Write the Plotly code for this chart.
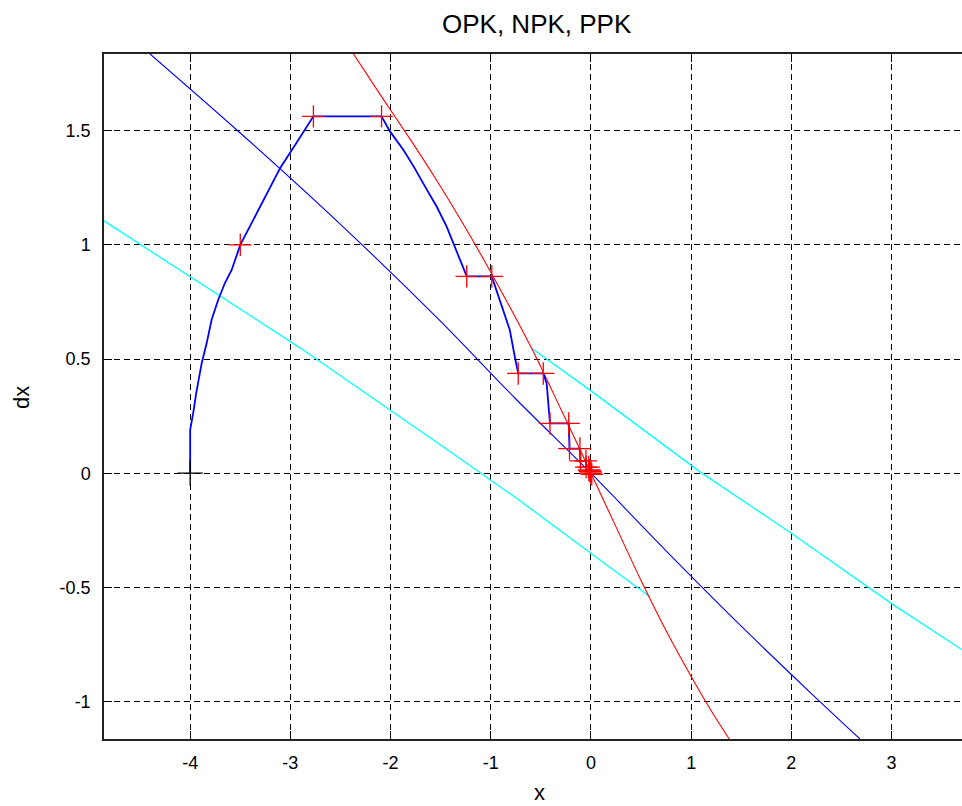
import plotly.graph_objects as go

# ---- data ----
traj_x = [-4.0, -4.0, -3.97, -3.94, -3.885, -3.835, -3.786, -3.72, -3.653, -3.586, -3.50,
          -3.30, -3.10, -2.94, -2.77,
          -2.09, -2.006, -1.873, -1.77, -1.657, -1.54, -1.44, -1.374, -1.307, -1.24,
          -0.99, -0.908, -0.81, -0.76, -0.726,
          -0.476, -0.442, -0.409,
          -0.222, -0.214,
          -0.11, -0.105,
          -0.05, -0.048,
          -0.022, -0.021,
          -0.01, -0.0095,
          -0.004, 0.0]
traj_y = [0.0, 0.19, 0.263, 0.35, 0.482, 0.57, 0.672, 0.76, 0.833, 0.89, 1.00,
          1.168, 1.338, 1.446, 1.563,
          1.563, 1.497, 1.417, 1.344, 1.256, 1.168, 1.08, 1.008, 0.935, 0.862,
          0.862, 0.759, 0.627, 0.51, 0.437,
          0.437, 0.393, 0.218,
          0.218, 0.108,
          0.108, 0.054,
          0.054, 0.027,
          0.027, 0.0135,
          0.0135, 0.007,
          0.007, 0.0]

mark_x = [-3.50, -2.77, -2.09, -1.24, -0.99, -0.726, -0.476, -0.409, -0.222, -0.214, -0.11,
          -0.105, -0.05, -0.048, -0.022, -0.021, -0.01, -0.0095, -0.004, 0.0, 0.008]
mark_y = [1.00, 1.563, 1.563, 0.862, 0.862, 0.437, 0.437, 0.218, 0.218, 0.108, 0.108,
          0.054, 0.054, 0.027, 0.027, 0.0135, 0.0135, 0.007, 0.007, 0.0, -0.005]

start_x = [-4.0]
start_y = [0.0]

red_x = [-2.37, -2.07, -1.80, -1.55, -1.30, -1.05, -0.80, -0.55, -0.30, -0.10, 0.0,
         0.25, 0.50, 0.75, 1.00, 1.20, 1.38]
red_y = [1.836, 1.636, 1.46, 1.29, 1.11, 0.92, 0.72, 0.51, 0.28, 0.095, 0.0,
         -0.235, -0.47, -0.69, -0.89, -1.04, -1.164]

blue_x = [-4.40, -3.50, -2.50, -1.50, -0.75, 0.0, 0.75, 1.50, 2.20, 2.685]
blue_y = [1.836, 1.49, 1.09, 0.665, 0.325, 0.0, -0.34, -0.67, -0.965, -1.164]

cyan_up_x = [-0.592, -0.01, 1.088, 2.003, 3.0, 3.70]
cyan_up_y = [0.547, 0.364, 0.006, -0.264, -0.571, -0.772]

cyan_lo_x = [-4.86, -3.70, -2.90, -1.407, -0.742, 0.09, 0.589]
cyan_lo_y = [1.105, 0.774, 0.548, 0.095, -0.11, -0.38, -0.541]

x_ticks = [-4, -3, -2, -1, 0, 1, 2, 3]
x_tick_text = ["-4", "-3", "-2", "-1", "0", "1", "2", "3"]
y_ticks = [-1, -0.5, 0, 0.5, 1, 1.5]
y_tick_text = ["-1", "-0.5", "0", "0.5", "1", "1.5"]

title_text = "OPK, NPK, PPK"
x_label = "x"
y_label = "dx"

# ---- figure ----
FONT = "Liberation Sans, Arial, sans-serif"
fig = go.Figure()

fig.add_trace(go.Scatter(x=cyan_lo_x, y=cyan_lo_y, mode="lines",
                         line=dict(color="#00FFFF", width=1.3), hoverinfo="skip"))
fig.add_trace(go.Scatter(x=cyan_up_x, y=cyan_up_y, mode="lines",
                         line=dict(color="#00FFFF", width=1.3), hoverinfo="skip"))
fig.add_trace(go.Scatter(x=blue_x, y=blue_y, mode="lines",
                         line=dict(color="#0000FF", width=1.1, shape="spline", smoothing=0.8),
                         hoverinfo="skip"))
fig.add_trace(go.Scatter(x=red_x, y=red_y, mode="lines",
                         line=dict(color="#FF0000", width=1.1, shape="spline", smoothing=0.8),
                         hoverinfo="skip"))
fig.add_trace(go.Scatter(x=traj_x, y=traj_y, mode="lines",
                         line=dict(color="#0000FF", width=1.8), hoverinfo="skip"))
fig.add_trace(go.Scatter(x=mark_x, y=mark_y, mode="markers",
                         marker=dict(symbol="cross-thin", size=16,
                                     line=dict(color="#FF0000", width=1.3)),
                         hoverinfo="skip"))
fig.add_trace(go.Scatter(x=start_x, y=start_y, mode="markers",
                         marker=dict(symbol="cross-thin", size=18,
                                     line=dict(color="#000000", width=1.3)),
                         hoverinfo="skip"))

fig.update_layout(
    width=962, height=806,
    margin=dict(l=104, r=0, t=54, b=67),
    paper_bgcolor="white", plot_bgcolor="white",
    showlegend=False,
    font=dict(family=FONT, size=18, color="#000000"),
    annotations=[
        dict(text=title_text, xref="paper", yref="paper", x=(537 - 104) / 858, y=1,
             yshift=13, xanchor="center", yanchor="bottom", showarrow=False,
             font=dict(family=FONT, size=26, color="#000000")),
        dict(text=x_label, xref="paper", yref="paper", x=(539 - 104) / 858, y=0,
             yshift=-39, xanchor="center", yanchor="top", showarrow=False,
             font=dict(family=FONT, size=22, color="#000000")),
        dict(text=y_label, xref="paper", yref="paper", x=0, xshift=-83, y=(739 - 398) / 685,
             xanchor="center", yanchor="middle", textangle=-90, showarrow=False,
             font=dict(family=FONT, size=22, color="#000000")),
    ],
)

fig.update_xaxes(
    range=[-4.86, 3.703], tickvals=x_ticks, ticktext=x_tick_text, ticks="inside", ticklen=8,
    tickcolor="#000",
    showline=True, linecolor="#222", linewidth=1.5, mirror="ticks",
    showgrid=True, gridcolor="#000000", gridwidth=1, griddash="6px,4px",
    zeroline=False, tickfont=dict(family=FONT, size=18), ticklabelstandoff=7,
)
fig.update_yaxes(
    range=[-1.164, 1.836], tickvals=y_ticks, ticktext=y_tick_text, ticks="inside", ticklen=8,
    tickcolor="#000", showline=True, linecolor="#222", linewidth=1.5, mirror=False,
    showgrid=True, gridcolor="#000000", gridwidth=1, griddash="6px,4px",
    zeroline=False, tickfont=dict(family=FONT, size=18), ticklabelstandoff=8,
)

fig.write_html("out.html", config={"displayModeBar": False},
               post_script="document.body.style.margin='0';document.body.style.overflow='hidden';")
